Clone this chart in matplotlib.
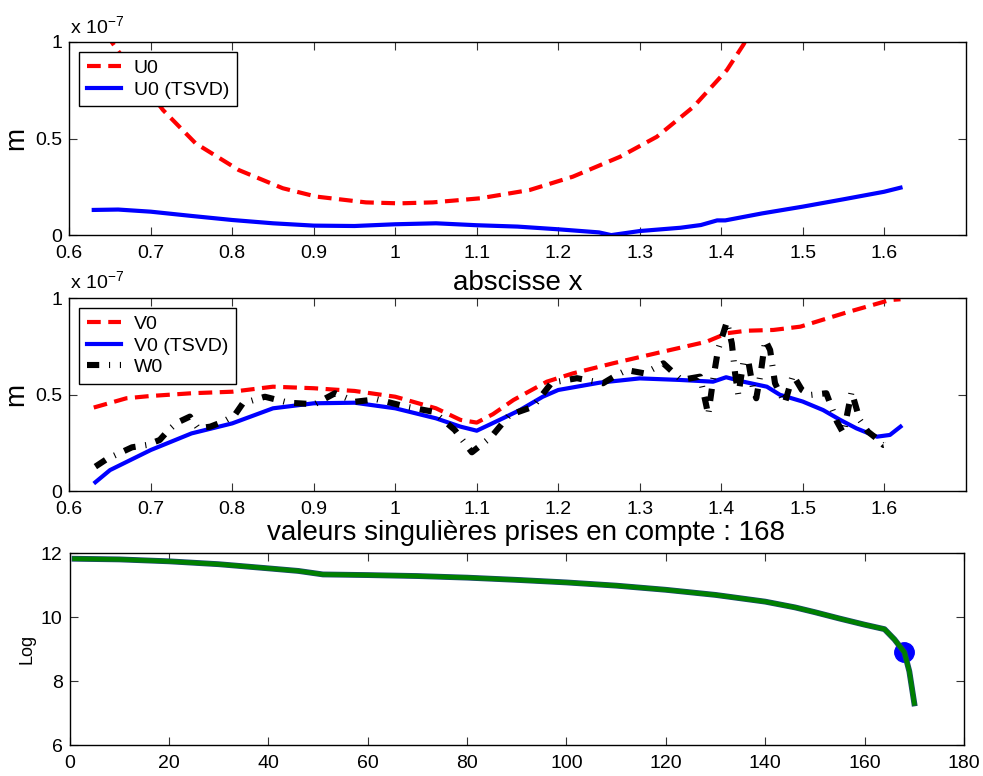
import matplotlib
matplotlib.use("Agg")
import matplotlib.pyplot as plt
import matplotlib.patheffects as pe

plt.rcParams['font.family'] = ['Liberation Sans', 'DejaVu Sans']
plt.rcParams['mathtext.fontset'] = 'custom'
plt.rcParams['mathtext.rm'] = 'Liberation Sans'
plt.rcParams['mathtext.it'] = 'Liberation Sans:italic'
plt.rcParams['mathtext.bf'] = 'Liberation Sans:bold'

# ---------------- data (units of 1e-7 m for the two upper panels) ----------------
u0_x = [0.630, 0.659, 0.715, 0.755, 0.808, 0.862, 0.903, 0.964, 1.005, 1.046, 1.104,
        1.165, 1.218, 1.276, 1.321, 1.366, 1.407, 1.427, 1.450]
u0_y = [1.130, 0.957, 0.647, 0.475, 0.337, 0.243, 0.200, 0.170, 0.165, 0.170, 0.191,
        0.234, 0.303, 0.406, 0.509, 0.664, 0.854, 0.983, 1.150]

u0t_x = [0.630, 0.660, 0.700, 0.750, 0.800, 0.850, 0.900, 0.950, 1.000, 1.050, 1.100,
         1.150, 1.200, 1.250, 1.265, 1.300, 1.350, 1.375, 1.395, 1.405, 1.450, 1.500,
         1.550, 1.600, 1.620]
u0t_y = [0.131, 0.133, 0.122, 0.100, 0.079, 0.062, 0.050, 0.048, 0.057, 0.062, 0.052,
         0.045, 0.031, 0.015, 0.001, 0.022, 0.039, 0.053, 0.077, 0.077, 0.113, 0.148,
         0.186, 0.225, 0.246]

v0_x = [0.630, 0.670, 0.700, 0.750, 0.800, 0.850, 0.900, 0.950, 1.000, 1.050, 1.080,
        1.100, 1.120, 1.145, 1.186, 1.218, 1.267, 1.329, 1.382, 1.407, 1.431, 1.464,
        1.497, 1.554, 1.607, 1.620]
v0_y = [0.434, 0.482, 0.494, 0.508, 0.516, 0.542, 0.534, 0.520, 0.490, 0.430, 0.370,
        0.356, 0.400, 0.473, 0.568, 0.611, 0.663, 0.724, 0.775, 0.819, 0.832, 0.836,
        0.853, 0.927, 0.991, 0.995]

v0t_x = [0.632, 0.650, 0.700, 0.750, 0.800, 0.850, 0.900, 0.950, 1.000, 1.050, 1.080,
         1.100, 1.128, 1.153, 1.181, 1.200, 1.251, 1.300, 1.349, 1.390, 1.406, 1.427,
         1.456, 1.472, 1.500, 1.525, 1.546, 1.566, 1.591, 1.607, 1.620]
v0t_y = [0.047, 0.110, 0.214, 0.300, 0.352, 0.430, 0.456, 0.459, 0.430, 0.378, 0.335,
         0.314, 0.370, 0.421, 0.490, 0.525, 0.563, 0.585, 0.577, 0.568, 0.591, 0.568,
         0.542, 0.500, 0.465, 0.421, 0.370, 0.326, 0.283, 0.292, 0.335]

w0_x = [0.632, 0.646, 0.677, 0.695, 0.711, 0.722, 0.732, 0.748, 0.758, 0.773, 0.789,
        0.803, 0.813, 0.840, 0.869, 0.901, 0.926, 0.951, 0.977, 1.014, 1.047, 1.073,
        1.094, 1.118, 1.140, 1.169, 1.192, 1.223, 1.255, 1.272, 1.284, 1.306, 1.329,
        1.351, 1.374, 1.382, 1.384, 1.390, 1.396, 1.407, 1.413, 1.417, 1.421, 1.427,
        1.433, 1.439, 1.443, 1.449, 1.454, 1.460, 1.466, 1.478, 1.488, 1.499, 1.509,
        1.529, 1.542, 1.550, 1.554, 1.560, 1.570, 1.580, 1.593, 1.599, 1.609]
w0_y = [0.128, 0.167, 0.228, 0.240, 0.266, 0.318, 0.355, 0.387, 0.326, 0.335, 0.361,
        0.395, 0.456, 0.490, 0.459, 0.451, 0.508, 0.464, 0.477, 0.438, 0.412, 0.318,
        0.202, 0.283, 0.395, 0.438, 0.563, 0.586, 0.560, 0.603, 0.628, 0.611, 0.663,
        0.577, 0.594, 0.438, 0.395, 0.577, 0.732, 0.879, 0.767, 0.611, 0.499, 0.663,
        0.680, 0.534, 0.482, 0.628, 0.784, 0.732, 0.560, 0.456, 0.603, 0.525, 0.499,
        0.508, 0.361, 0.300, 0.387, 0.516, 0.370, 0.309, 0.266, 0.240, 0.249]

sv_x = [1, 10, 20, 30, 40, 46, 51, 60, 70, 80, 90, 100, 110, 120, 130, 140, 146,
        150, 155, 160, 164, 166, 168, 169, 170]
sv_y = [11.82, 11.80, 11.74, 11.65, 11.52, 11.44, 11.33, 11.31, 11.28, 11.23, 11.16,
        11.08, 10.98, 10.85, 10.69, 10.48, 10.30, 10.15, 9.95, 9.76, 9.62, 9.30,
        8.90, 8.30, 7.30]
sv_sel_x = [168]
sv_sel_y = [8.90]

x_ticks = [0.6, 0.7, 0.8, 0.9, 1.0, 1.1, 1.2, 1.3, 1.4, 1.5, 1.6]
x_tick_labels = ['0.6', '0.7', '0.8', '0.9', '1', '1.1', '1.2', '1.3', '1.4', '1.5', '1.6']
m_ticks = [0, 0.5, 1]
m_tick_labels = ['0', '0.5', '1']
sv_xticks = [0, 20, 40, 60, 80, 100, 120, 140, 160, 180]
sv_yticks = [6, 8, 10, 12]

# ---------------- figure ----------------
W, H = 983, 776
fig = plt.figure(figsize=(W / 100, H / 100), dpi=100)

def ax_rect(l, t, r, b):
    return [l / W, 1 - b / H, (r - l) / W, (b - t) / H]

ax1 = fig.add_axes(ax_rect(69.3, 41.7, 965.7, 235.3))
ax2 = fig.add_axes(ax_rect(69.3, 298.3, 965.7, 491.3))
ax3 = fig.add_axes(ax_rect(69.6, 553.0, 964.0, 745.0))

def style(ax):
    ax.tick_params(direction='in', length=6, width=0.8, top=True, right=True,
                   labelsize=14, color='#333333')
    ax.tick_params(axis='x', pad=7)
    ax.tick_params(axis='y', pad=5)
    for s in ax.spines.values():
        s.set_linewidth(1.0)

red_ls = (0, (3.3, 1.8))
w0_ls = (0, (2.0, 1.6, 0.18, 1.6))

# top panel
ax1.plot(u0_x, u0_y, color='#ff0000', lw=3, ls=red_ls, label='U0')
ax1.plot(u0t_x, u0t_y, color='#0000ff', lw=3, label='U0 (TSVD)')
ax1.set_xlim(0.6, 1.7)
ax1.set_ylim(0, 1)
ax1.set_xticks(x_ticks)
ax1.set_xticklabels(x_tick_labels)
ax1.set_yticks(m_ticks)
ax1.set_yticklabels(m_tick_labels)
ax1.set_ylabel('m', fontsize=20, labelpad=4)
style(ax1)

# middle panel
ax2.plot(v0_x, v0_y, color='#ff0000', lw=3, ls=red_ls, label='V0')
ax2.plot(v0t_x, v0t_y, color='#0000ff', lw=3, label='V0 (TSVD)')
ax2.plot(w0_x, w0_y, color='black', lw=4.4, ls=w0_ls, dash_capstyle='butt', label='W0')
ax2.set_xlim(0.6, 1.7)
ax2.set_ylim(0, 1)
ax2.set_xticks(x_ticks)
ax2.set_xticklabels(x_tick_labels)
ax2.set_yticks(m_ticks)
ax2.set_yticklabels(m_tick_labels)
ax2.set_ylabel('m', fontsize=20, labelpad=4)
style(ax2)

for ax, ytop in ((ax1, 0.948), (ax2, 0.951)):
    leg = ax.legend(loc='upper left', bbox_to_anchor=(0.0112, ytop), borderaxespad=0,
                    fontsize=14, fancybox=False, framealpha=1, edgecolor='black',
                    handlelength=1.75, handletextpad=0.65, labelspacing=0.2,
                    borderpad=0.4)
    leg.get_frame().set_linewidth(1.0)

# bottom panel
ax3.plot(sv_sel_x, sv_sel_y, 'o', color='#0000ff', ms=14, zorder=2)
ax3.plot(sv_x, sv_y, color='#008000', lw=3.2, zorder=3,
         path_effects=[pe.Stroke(linewidth=4.2, foreground='#1d4a6e'), pe.Normal()])
ax3.set_xlim(0, 180)
ax3.set_ylim(6, 12)
ax3.set_xticks(sv_xticks)
ax3.set_yticks(sv_yticks)
ax3.set_ylabel('Log', fontsize=13, labelpad=4)
style(ax3)

# texts
fig.text(70 / W, 1 - 33 / H, r'x 10$^{-7}$', fontsize=14, va='baseline', ha='left')
fig.text(70 / W, 1 - 288 / H, r'x 10$^{-7}$', fontsize=14, va='baseline', ha='left')
fig.text(518 / W, 1 - 290 / H, 'abscisse x', fontsize=20, va='baseline', ha='center')
fig.text(526 / W, 1 - 540 / H, 'valeurs singulières prises en compte : 168',
         fontsize=20, va='baseline', ha='center')

fig.savefig('out.png', dpi=100)
